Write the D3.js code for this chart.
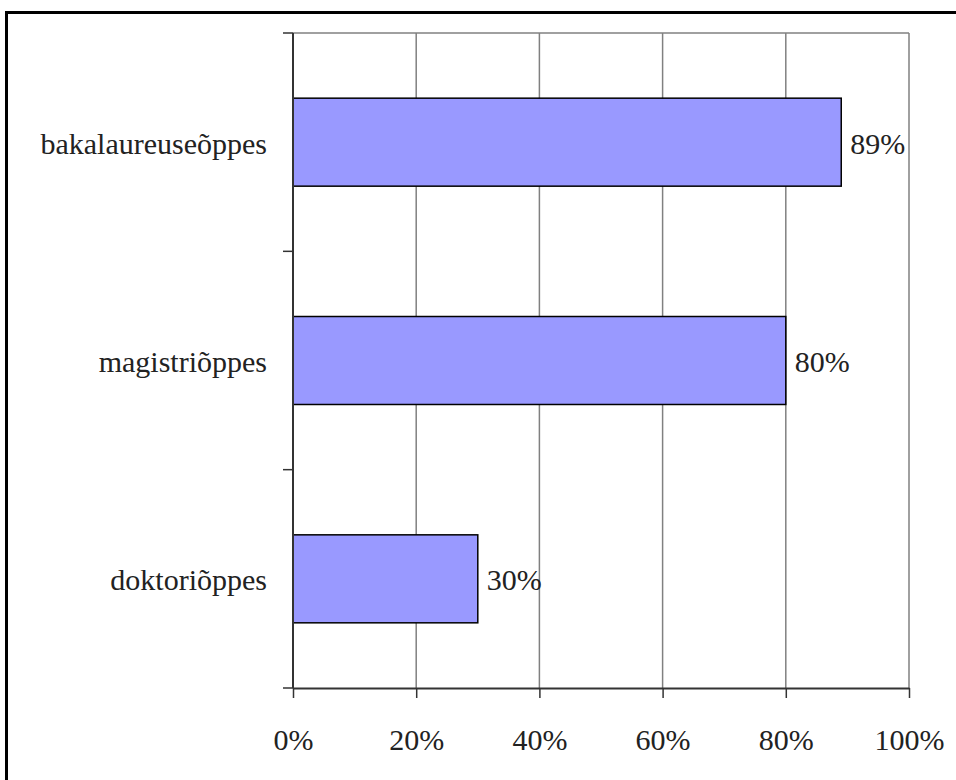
<!DOCTYPE html>
<html>
<head>
<meta charset="utf-8">
<script src="https://cdn.jsdelivr.net/npm/d3@7"></script>
<style>
  body { margin: 0; background: #fff; }
</style>
</head>
<body>
<div id="chart"></div>
<script>
// data
const categories = ["bakalaureuseõppes", "magistriõppes", "doktoriõppes"];
const values = [0.89, 0.80, 0.30];
const xTicks = [0, 0.2, 0.4, 0.6, 0.8, 1.0];

const width = 956, height = 780;
const plot = {left: 293, right: 909, top: 33, bottom: 688};
const serif = "Garamond, 'Liberation Serif', 'Times New Roman', Times, Tinos, 'DejaVu Serif', 'Noto Serif', serif";

const svg = d3.select("#chart")
  .append("svg")
  .attr("width", width)
  .attr("height", height);

// outer frame, runs off the right and bottom edge like in the picture
svg.append("rect")
  .attr("x", 6.5).attr("y", 12.5)
  .attr("width", 960).attr("height", 780)
  .attr("fill", "none")
  .attr("stroke", "#000")
  .attr("stroke-width", 3);

let x = d3.scaleLinear([0, 1], [plot.left, plot.right]);

let y = d3.scaleBand(categories, [plot.top, plot.bottom])
  .paddingInner(0.597)
  .paddingOuter(0.2985);

// plot area border (top edge grey)
svg.append("line")
  .attr("x1", plot.left).attr("x2", plot.right)
  .attr("y1", plot.top).attr("y2", plot.top)
  .attr("stroke", "#808080")
  .attr("stroke-width", 1.5);

// vertical gridlines
svg.append("g")
  .selectAll("line")
  .data(xTicks.slice(1))
  .join("line")
  .attr("x1", d => x(d)).attr("x2", d => x(d))
  .attr("y1", plot.top).attr("y2", plot.bottom)
  .attr("stroke", "#808080")
  .attr("stroke-width", 1.5);

// bars
svg.append("g")
  .selectAll("rect")
  .data(values)
  .join("rect")
  .attr("x", x(0))
  .attr("y", (d, i) => y(categories[i]))
  .attr("width", d => x(d) - x(0))
  .attr("height", y.bandwidth())
  .attr("fill", "#9999ff")
  .attr("stroke", "#000")
  .attr("stroke-width", 1.5);

// value labels
svg.append("g")
  .selectAll("text")
  .data(values)
  .join("text")
  .attr("x", d => x(d) + 9)
  .attr("y", (d, i) => y(categories[i]) + y.bandwidth() / 2)
  .attr("dy", "0.38em")
  .attr("font-family", serif)
  .attr("font-size", 30)
  .attr("fill", "#222")
  .text(d => d3.format(".0%")(d));

// x axis
const xAxis = svg.append("g")
  .attr("transform", `translate(0,${plot.bottom})`)
  .call(d3.axisBottom(x).tickValues(xTicks).tickFormat(d3.format(".0%"))
    .tickSize(10).tickPadding(31).tickSizeOuter(0))
  .attr("font-family", serif)
  .attr("font-size", 30);
xAxis.select(".domain").attr("stroke", "#333").attr("stroke-width", 2);
xAxis.selectAll(".tick line").attr("stroke", "#333").attr("stroke-width", 1.5);
xAxis.selectAll("text").attr("fill", "#222");

// y axis: ticks at category boundaries
const step = y.step();
const boundaries = d3.range(categories.length + 1).map(i => plot.top + i * step);
const yAxis = svg.append("g");
yAxis.append("line")
  .attr("x1", plot.left).attr("x2", plot.left)
  .attr("y1", plot.top).attr("y2", plot.bottom)
  .attr("stroke", "#333")
  .attr("stroke-width", 2);
yAxis.selectAll(".btick")
  .data(boundaries)
  .join("line")
  .attr("class", "btick")
  .attr("x1", plot.left - 10).attr("x2", plot.left)
  .attr("y1", d => d).attr("y2", d => d)
  .attr("stroke", "#333")
  .attr("stroke-width", 1.5);
yAxis.selectAll("text")
  .data(categories)
  .join("text")
  .attr("x", plot.left - 26)
  .attr("y", d => y(d) + y.bandwidth() / 2)
  .attr("dy", "0.38em")
  .attr("text-anchor", "end")
  .attr("font-family", serif)
  .attr("font-size", 30)
  .attr("fill", "#222")
  .text(d => d);
</script>
</body>
</html>
